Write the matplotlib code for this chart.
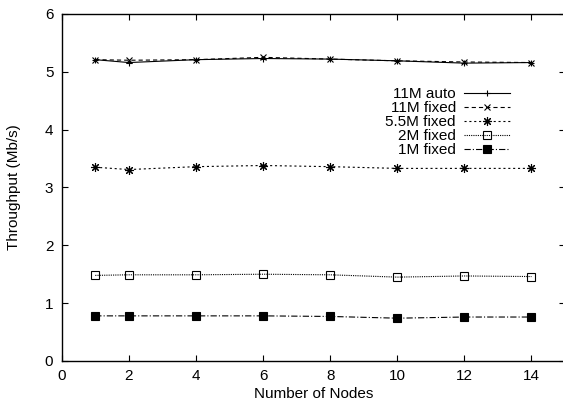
import matplotlib
matplotlib.use('Agg')
import matplotlib.pyplot as plt

plt.rcParams['font.family'] = ['Liberation Sans', 'DejaVu Sans']
plt.rcParams['font.size'] = 11
plt.rcParams['lines.scale_dashes'] = False

# number of nodes
nodes = [1, 2, 4, 6, 8, 10, 12, 14]

# throughput (Mb/s) per rate setting
auto_11m = [5.21, 5.16, 5.21, 5.23, 5.22, 5.19, 5.15, 5.16]
fixed_11m = [5.21, 5.20, 5.21, 5.25, 5.22, 5.19, 5.17, 5.16]
fixed_5_5m = [3.35, 3.31, 3.36, 3.38, 3.36, 3.33, 3.33, 3.33]
fixed_2m = [1.48, 1.49, 1.49, 1.50, 1.49, 1.45, 1.47, 1.46]
fixed_1m = [0.78, 0.78, 0.78, 0.78, 0.77, 0.74, 0.76, 0.76]

labels = ['11M auto', '11M fixed', '5.5M fixed', '2M fixed', '1M fixed']
xticks = [0, 2, 4, 6, 8, 10, 12, 14]
yticks = [0, 1, 2, 3, 4, 5, 6]

fig = plt.figure(figsize=(5.63, 4.11), dpi=100)
ax = fig.add_axes([0.1096, 0.1217, 0.8940, 0.8443])

ax.plot(nodes, auto_11m, color='black', lw=0.8, ls='-',
        marker='+', ms=5, mew=0.8, label=labels[0])
ax.plot(nodes, fixed_11m, color='black', lw=0.8, ls=(0, (3, 2.2)),
        marker='x', ms=4.5, mew=0.8, label=labels[1])
ax.plot(nodes, fixed_5_5m, color='black', lw=0.8, ls=(0, (1.5, 2)),
        marker=(8, 2, 0), ms=6.5, mew=0.8, label=labels[2])
ax.plot(nodes, fixed_2m, color='black', lw=0.8, ls=(0, (0.8, 0.8)),
        marker='s', ms=5.2, mfc='none', mew=0.8, label=labels[3])
ax.plot(nodes, fixed_1m, color='black', lw=0.8, ls=(0, (4.5, 1.5, 0.8, 1.5)),
        marker='s', ms=5.2, mfc='black', mew=0.8, label=labels[4])

ax.set_xlim(0, 15)
ax.set_ylim(0, 6)
ax.set_xticks(xticks)
ax.set_yticks(yticks)
ax.tick_params(direction='in', top=True, right=True, length=4, width=0.8,
               labelsize=11, pad=6)
ax.spines['right'].set_visible(False)
for s in ['left', 'bottom', 'top']:
    ax.spines[s].set_linewidth(1.0)

ax.set_xlabel('Number of Nodes', fontsize=11, labelpad=3)
ax.set_ylabel('Throughput (Mb/s)', fontsize=11, labelpad=17)

leg = ax.legend(loc='upper right', bbox_to_anchor=(0.903, 0.807),
                frameon=False, markerfirst=False, handlelength=3.0,
                handletextpad=0.55, labelspacing=0.0, fontsize=11,
                borderaxespad=0)
for t in leg.get_texts():
    t.set_ha('right')
leg._legend_box.align = 'right'

fig.savefig('out.png', dpi=100)
